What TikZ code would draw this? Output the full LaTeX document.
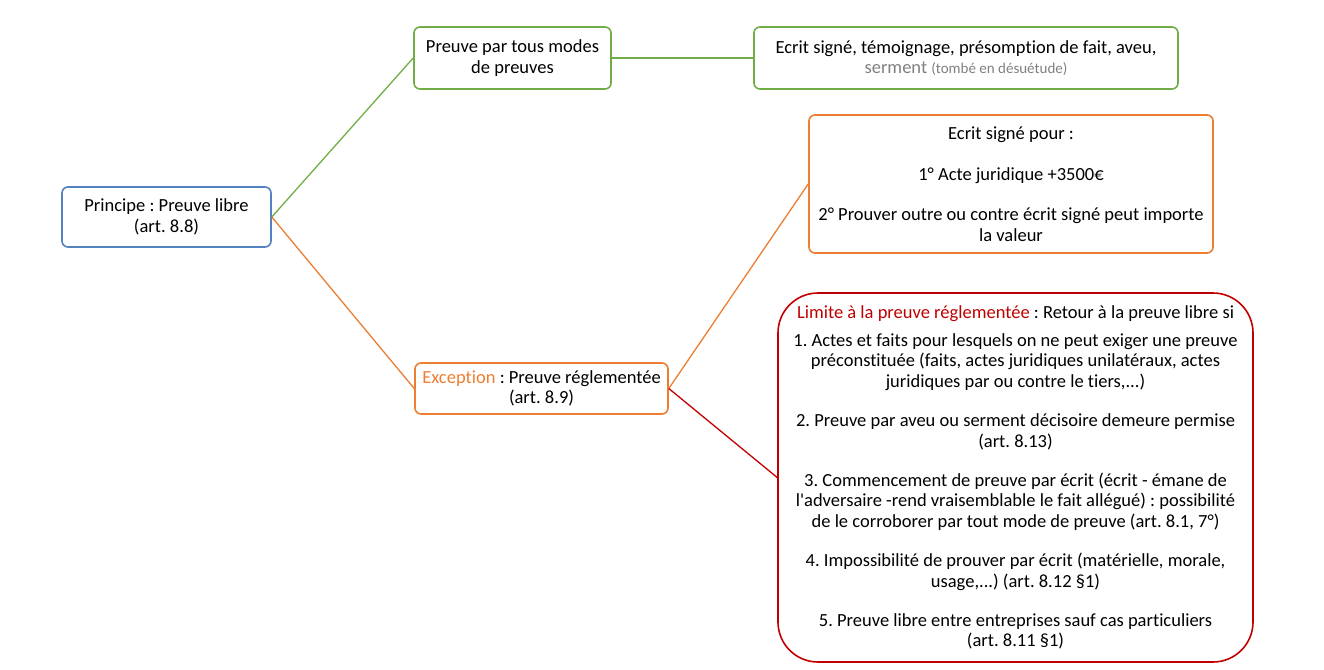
\documentclass[tikz,border=0pt]{standalone}
\usepackage{fontspec}
\setmainfont{Carlito}[Ligatures={NoCommon,TeXOff}]
\frenchspacing
\definecolor{cblue}{RGB}{84,130,190}
\definecolor{cgreen}{RGB}{112,173,71}
\definecolor{corange}{RGB}{237,125,49}
\definecolor{cred}{RGB}{192,0,0}
\definecolor{cgray}{RGB}{128,128,128}
\tikzset{
  box/.style={draw, line width=1.6pt, rounded corners=6pt, align=center, inner sep=0pt,
    font=\fontsize{18.5}{20.4}\selectfont, text=black},
  bluebox/.style={box, draw=cblue},
  greenbox/.style={box, draw=cgreen},
  orangebox/.style={box, draw=corange},
  redbox/.style={box, draw=cred, rounded corners=40pt},
  link/.style={line width=1.3pt},
}
\begin{document}
\begin{tikzpicture}[x=1pt,y=-1pt]
\useasboundingbox (0,0) rectangle (1324,669);
\node[bluebox, minimum width=209, minimum height=60] (p) at (166.5,217)
  {Principe : Preuve libre\\(art. 8.8)};
\node[greenbox, minimum width=197, minimum height=62] (m) at (512.5,58)
  {Preuve par tous modes\\de preuves};
\node[greenbox, minimum width=424, minimum height=62] (e) at (966,58)
  {Ecrit signé, témoignage, présomption de fait, aveu,\\
   {\color{cgray}serment {\fontsize{15}{16}\selectfont (tombé en désuétude)}}};
\node[orangebox, minimum width=253, minimum height=51] (x) at (541.5,388.5)
  {{\color{corange}Exception} : Preuve réglementée\\(art. 8.9)};
\node[orangebox, minimum width=404, minimum height=138] (s) at (1011,184)
  {Ecrit signé pour :\\[20.4pt]
   1° Acte juridique +3500€\\[20.4pt]
   2° Prouver outre ou contre écrit signé peut importe\\la valeur};
\node[redbox, minimum width=475, minimum height=369] (l) at (1015.5,477.5)
  {{\color{cred}Limite à la preuve réglementée} : Retour à la preuve libre si\\[7.6pt]
   1. Actes et faits pour lesquels on ne peut exiger une preuve\\
   préconstituée (faits, actes juridiques unilatéraux, actes\\
   juridiques par ou contre le tiers,...)\\[19pt]
   2. Preuve par aveu ou serment décisoire demeure permise\\
   (art. 8.13)\\[19pt]
   3. Commencement de preuve par écrit (écrit - émane de\\
   l'adversaire -rend vraisemblable le fait allégué) : possibilité\\
   de le corroborer par tout mode de preuve (art. 8.1, 7°)\\[19pt]
   4. Impossibilité de prouver par écrit (matérielle, morale,\\
   usage,...) (art. 8.12 §1)\\[19pt]
   5. Preuve libre entre entreprises sauf cas particuliers\\
   (art. 8.11 §1)};
\draw[link, cgreen] (p.east) -- (m.west);
\draw[link, cgreen] (m.east) -- (e.west);
\draw[link, corange] (p.east) -- (x.west);
\draw[link, corange] (x.east) -- (s.west);
\draw[link, cred] (x.east) -- (l.west);
\end{tikzpicture}
\end{document}
